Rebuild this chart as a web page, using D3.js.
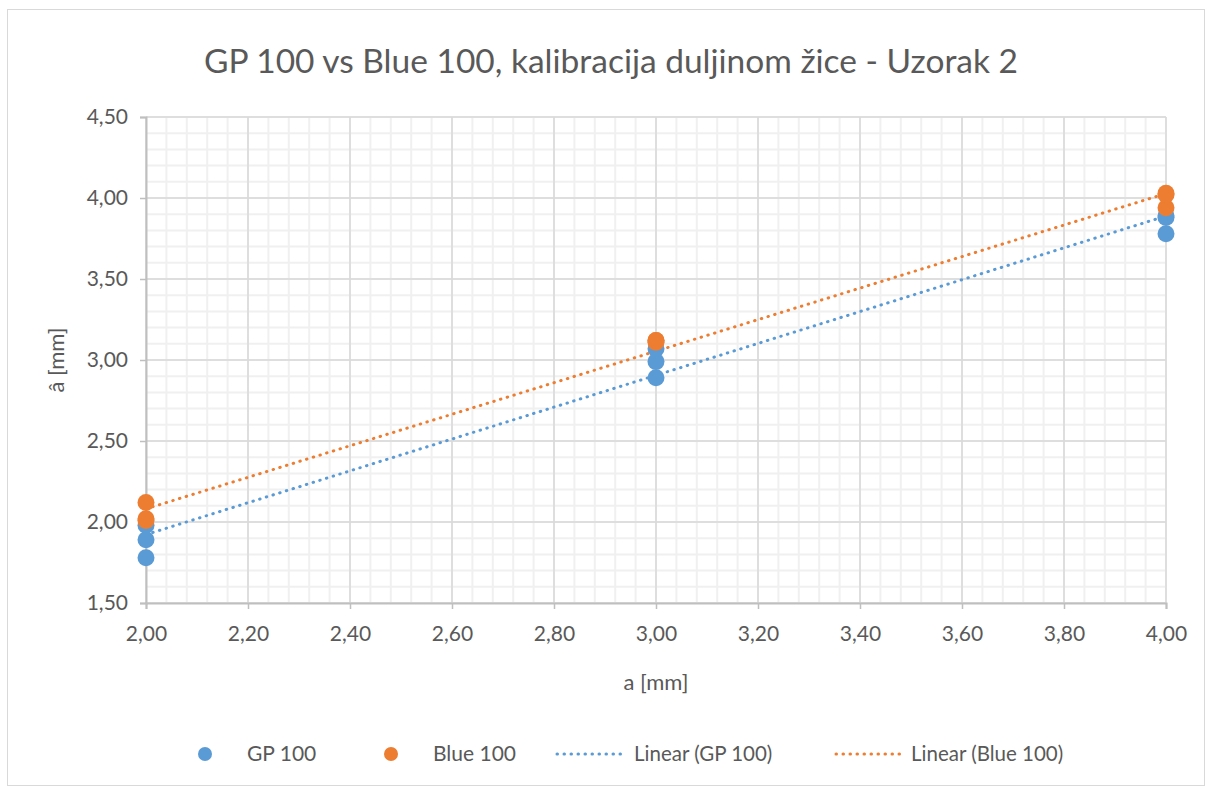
<!DOCTYPE html>
<html>
<head>
<meta charset="utf-8">
<script src="https://cdn.jsdelivr.net/npm/d3@7"></script>
<style>
  body { margin: 0; background: #fff; }
  text { font-family: Lato, "Open Sans", sans-serif; fill: #595959; }
</style>
</head>
<body>
<div id="chart"></div>
<script>
// measurement data, three repeats per wire length
var xValues = [2, 2, 2, 3, 3, 3, 4, 4, 4];
var gpValues = [1.78, 1.89, 1.98, 2.89, 2.99, 3.07, 3.78, 3.88, 3.89];
var blueValues = [2.12, 2.02, 2.01, 3.12, 3.12, 3.11, 4.03, 3.94, 4.02];
var xTicks = [2, 2.2, 2.4, 2.6, 2.8, 3, 3.2, 3.4, 3.6, 3.8, 4];
var yTicks = [1.5, 2, 2.5, 3, 3.5, 4, 4.5];
var seriesNames = ["GP 100", "Blue 100", "Linear (GP 100)", "Linear (Blue 100)"];

var W = 1213, H = 791;
var margin = { top: 117, right: 48, bottom: 188, left: 146 },
  width = 1166 - margin.left,
  height = 603 - margin.top;

var blue = "#5b9bd5", orange = "#ed7d31";

var svg = d3.select("#chart").append("svg")
  .attr("width", W).attr("height", H);

// outer chart border
svg.append("rect")
  .attr("x", 7.5).attr("y", 9.5)
  .attr("width", 1197).attr("height", 776)
  .attr("fill", "#fff").attr("stroke", "#d9d9d9");

var g = svg.append("g")
  .attr("transform", "translate(" + margin.left + "," + margin.top + ")");

var x = d3.scaleLinear().domain([2, 4]).range([0, width]);
var y = d3.scaleLinear().domain([1.5, 4.5]).range([height, 0]);

// minor grid
var xMinor = d3.range(0, 51).map(function(i) { return 2 + i * 0.04; });
var yMinor = d3.range(0, 31).map(function(i) { return 1.5 + i * 0.1; });
g.selectAll(".vminor").data(xMinor).enter().append("line")
  .attr("x1", function(d) { return x(d); }).attr("x2", function(d) { return x(d); })
  .attr("y1", 0).attr("y2", height)
  .attr("stroke", "#f0f0f0").attr("stroke-width", 2);
g.selectAll(".hminor").data(yMinor).enter().append("line")
  .attr("y1", function(d) { return y(d); }).attr("y2", function(d) { return y(d); })
  .attr("x1", 0).attr("x2", width)
  .attr("stroke", "#f0f0f0").attr("stroke-width", 2);

// major grid
g.selectAll(".vmajor").data(xTicks).enter().append("line")
  .attr("x1", function(d) { return x(d); }).attr("x2", function(d) { return x(d); })
  .attr("y1", 0).attr("y2", height)
  .attr("stroke", "#d9d9d9").attr("stroke-width", 1.5);
g.selectAll(".hmajor").data(yTicks).enter().append("line")
  .attr("y1", function(d) { return y(d); }).attr("y2", function(d) { return y(d); })
  .attr("x1", 0).attr("x2", width)
  .attr("stroke", "#d9d9d9").attr("stroke-width", 1.5);

var fmt = function(d) { return d3.format(".2f")(d).replace(".", ","); };

// axes
var xAxis = g.append("g")
  .attr("transform", "translate(0," + height + ")")
  .call(d3.axisBottom(x).tickValues(xTicks).tickFormat(fmt).tickSize(6).tickPadding(17));
var yAxis = g.append("g")
  .call(d3.axisLeft(y).tickValues(yTicks).tickFormat(fmt).tickSize(6).tickPadding(12));
[xAxis, yAxis].forEach(function(a) {
  a.select(".domain").attr("stroke", "#bfbfbf").attr("stroke-width", 2);
  a.selectAll(".tick line").attr("stroke", "#bfbfbf").attr("stroke-width", 1.5);
  a.selectAll(".tick text").style("font-size", "21px").attr("fill", "#595959")
    .style("font-family", "Lato, sans-serif");
});

// linear trend lines (least squares)
function fit(xs, ys) {
  var mx = d3.mean(xs), my = d3.mean(ys);
  var sxy = d3.sum(xs, function(d, i) { return (d - mx) * (ys[i] - my); });
  var sxx = d3.sum(xs, function(d) { return (d - mx) * (d - mx); });
  var b = sxy / sxx;
  return function(v) { return my + b * (v - mx); };
}
var line = d3.line().x(function(d) { return x(d[0]); }).y(function(d) { return y(d[1]); });
[[gpValues, blue], [blueValues, orange]].forEach(function(s) {
  var f = fit(xValues, s[0]);
  g.append("path")
    .attr("d", line([[2, f(2)], [4, f(4)]]))
    .attr("fill", "none").attr("stroke", s[1])
    .attr("stroke-width", 3).attr("stroke-linecap", "round")
    .attr("stroke-dasharray", "0.5,6.5");
});

// points
g.selectAll(".gp").data(gpValues).enter().append("circle")
  .attr("cx", function(d, i) { return x(xValues[i]); })
  .attr("cy", function(d) { return y(d); })
  .attr("r", 8.5).attr("fill", blue);
g.selectAll(".bl").data(blueValues).enter().append("circle")
  .attr("cx", function(d, i) { return x(xValues[i]); })
  .attr("cy", function(d) { return y(d); })
  .attr("r", 8.5).attr("fill", orange);

// title
svg.append("text")
  .attr("x", 611).attr("y", 73)
  .attr("text-anchor", "middle")
  .style("font-size", "33.5px")
  .text("GP 100 vs Blue 100, kalibracija duljinom žice - Uzorak 2");

// axis titles
svg.append("text")
  .attr("x", 656).attr("y", 690)
  .attr("text-anchor", "middle")
  .style("font-size", "22px")
  .text("a [mm]");
svg.append("text")
  .attr("transform", "translate(64,360) rotate(-90)")
  .attr("text-anchor", "middle")
  .style("font-size", "22px")
  .text("â [mm]");

// legend
var lg = svg.append("g").attr("transform", "translate(0,754)");
lg.append("circle").attr("cx", 205).attr("cy", 0).attr("r", 7).attr("fill", blue);
lg.append("text").attr("x", 247).attr("y", 7).style("font-size", "21px").text(seriesNames[0]);
lg.append("circle").attr("cx", 391).attr("cy", 0).attr("r", 7).attr("fill", orange);
lg.append("text").attr("x", 433).attr("y", 7).style("font-size", "21px").text(seriesNames[1]);
lg.append("line").attr("x1", 557).attr("x2", 622).attr("y1", 0).attr("y2", 0)
  .attr("stroke", blue).attr("stroke-width", 3).attr("stroke-linecap", "round")
  .attr("stroke-dasharray", "0.5,6.5");
lg.append("text").attr("x", 634).attr("y", 7).style("font-size", "20.5px").text(seriesNames[2]);
lg.append("line").attr("x1", 836).attr("x2", 900).attr("y1", 0).attr("y2", 0)
  .attr("stroke", orange).attr("stroke-width", 3).attr("stroke-linecap", "round")
  .attr("stroke-dasharray", "0.5,6.5");
lg.append("text").attr("x", 911).attr("y", 7).style("font-size", "20.5px").text(seriesNames[3]);
</script>
</body>
</html>
